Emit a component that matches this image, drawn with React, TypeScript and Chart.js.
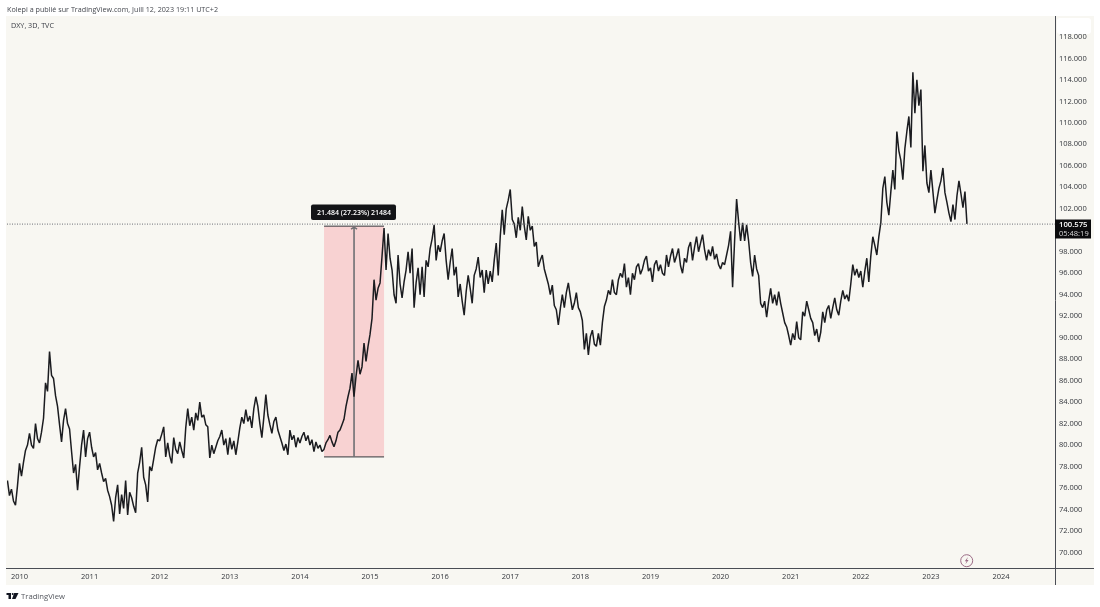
import React, { useEffect, useRef } from "react";
import { Chart, registerables } from "chart.js";

Chart.register(...registerables);

const header = "Kolepi a publié sur TradingView.com, Juill 12, 2023 19:11 UTC+2";
const symbolLine = "DXY, 3D, TVC";
const brand = "TradingView";
const rangeLabel = "21.484 (27.23%) 21484";
const lastPriceLabel = "100.575";
const countdownLabel = "05:48:19";

const lastPrice = 100.575;
const rangeLow = 78.9;
const rangeHigh = 100.384;
const rangeFrom = 2014.344;
const rangeTo = 2015.2;
const axisFirstYear = 2009.822;
const axisLastYear = 2024.77;
const axisLowPrice = 68.557;
const axisHighPrice = 119.95;
const pointsPerYear = 35;

const tail2009 = [76.7, 75.3, 75.9, 74.8, 74.4, 76.2];
const y2010 = [78.3, 77.1, 78.4, 79.5, 80.0, 81.1, 80.0, 79.7, 82.0, 80.6, 80.2, 81.2, 82.5, 85.8, 85.0, 88.7, 86.5, 86.2, 84.6, 83.6, 81.9, 80.3, 82.3, 83.4, 82.0, 81.5, 79.4, 77.4, 78.2, 75.8, 78.0, 80.0, 81.4, 78.9, 80.6];
const y2011 = [81.2, 79.8, 78.9, 79.3, 77.7, 78.3, 77.4, 76.6, 76.9, 75.8, 75.2, 74.4, 72.9, 75.1, 76.3, 73.6, 75.4, 74.1, 76.7, 73.5, 75.6, 75.1, 74.3, 73.7, 77.4, 78.4, 79.8, 77.0, 76.3, 74.7, 78.0, 77.6, 78.7, 79.8, 80.5];
const y2012 = [80.4, 81.0, 81.7, 78.9, 80.2, 79.0, 78.3, 80.7, 79.6, 79.2, 80.3, 79.5, 78.8, 81.6, 83.4, 81.8, 82.6, 81.4, 83.0, 82.3, 84.0, 82.6, 82.8, 81.9, 81.7, 78.8, 80.0, 79.2, 79.8, 80.4, 80.8, 81.4, 80.0, 80.6, 79.1];
const y2013 = [80.7, 79.6, 80.4, 79.1, 80.3, 81.6, 82.6, 82.0, 83.3, 82.2, 82.7, 81.6, 83.4, 84.5, 83.6, 82.0, 80.7, 82.6, 84.7, 82.8, 81.9, 81.1, 82.2, 82.6, 81.4, 80.8, 80.2, 79.5, 80.1, 79.1, 81.4, 80.5, 80.9, 79.8, 80.7];
const y2014 = [80.2, 80.8, 81.2, 80.4, 80.9, 80.0, 80.5, 79.4, 80.3, 79.7, 80.0, 79.4, 79.6, 80.2, 80.5, 80.9, 80.3, 79.85, 80.4, 81.2, 81.4, 81.9, 82.4, 83.6, 84.5, 85.3, 86.7, 84.5, 86.4, 87.9, 86.6, 87.3, 89.5, 87.8, 89.2];
const y2015 = [90.3, 91.8, 95.4, 93.5, 94.6, 95.1, 97.6, 100.2, 96.3, 99.7, 97.4, 96.3, 94.0, 93.2, 97.7, 95.0, 93.7, 95.2, 96.3, 98.0, 96.0, 98.3, 92.8, 95.1, 96.5, 94.0, 96.6, 93.8, 97.2, 96.6, 98.3, 99.2, 100.5, 97.2, 98.6];
const y2016 = [98.0, 99.0, 99.7, 97.2, 95.4, 97.0, 98.3, 95.8, 96.6, 93.8, 95.0, 93.4, 92.1, 94.3, 95.8, 94.6, 93.2, 95.8, 96.4, 97.5, 95.6, 96.3, 94.2, 96.3, 95.0, 96.2, 95.2, 97.2, 98.8, 95.8, 99.4, 101.9, 99.6, 102.0, 102.8];
const y2017 = [103.8, 101.0, 100.6, 99.3, 101.2, 100.0, 102.2, 100.4, 99.1, 101.3, 100.0, 100.4, 98.5, 98.9, 96.6, 97.2, 97.7, 96.4, 95.7, 95.0, 94.0, 94.9, 93.0, 92.6, 91.2, 92.7, 94.0, 92.8, 94.2, 95.1, 93.8, 92.6, 93.2, 94.2, 92.8];
const y2018 = [92.4, 91.6, 88.9, 90.4, 88.4, 90.1, 90.7, 89.4, 89.2, 90.4, 89.3, 91.4, 92.9, 93.5, 94.4, 94.0, 95.4, 94.2, 94.0, 95.4, 96.0, 95.6, 96.9, 94.7, 95.6, 94.0, 96.0, 95.4, 96.6, 96.9, 95.9, 96.4, 97.2, 97.6, 96.2];
const y2019 = [96.5, 95.2, 96.8, 97.2, 96.2, 96.8, 96.0, 95.8, 97.7, 96.6, 97.6, 98.3, 97.0, 97.6, 98.3, 96.7, 96.0, 97.4, 97.0, 98.4, 98.9, 97.2, 98.4, 99.4, 98.0, 98.8, 99.6, 98.2, 97.2, 98.2, 97.6, 98.5, 97.3, 97.8, 96.8];
const y2020 = [96.4, 97.0, 96.8, 97.7, 98.6, 99.9, 94.7, 99.0, 102.9, 100.8, 99.0, 100.7, 99.0, 100.5, 99.0, 97.0, 95.7, 97.7, 96.4, 95.8, 93.2, 92.8, 93.4, 91.9, 93.4, 94.6, 93.2, 94.0, 93.0, 94.3, 93.2, 92.3, 91.4, 91.0, 90.2];
const y2021 = [89.3, 90.4, 89.8, 91.5, 90.0, 89.8, 92.4, 92.0, 93.4, 92.6, 91.8, 91.4, 90.2, 90.8, 89.6, 90.5, 92.4, 91.4, 92.6, 93.0, 91.8, 92.8, 93.7, 92.6, 92.1, 93.4, 94.4, 93.6, 94.0, 93.4, 95.0, 96.8, 95.8, 96.4, 95.6];
const y2022 = [96.2, 94.7, 96.2, 97.4, 95.2, 97.6, 99.4, 98.6, 97.7, 99.4, 100.7, 103.9, 105.0, 102.6, 101.4, 103.6, 105.6, 103.8, 109.2, 107.4, 106.5, 104.7, 107.6, 109.2, 110.6, 107.7, 114.7, 110.9, 114.0, 111.6, 113.1, 105.5, 107.9, 104.4, 103.5];
const y2023 = [105.6, 103.6, 101.6, 102.8, 103.9, 104.6, 105.8, 103.5, 102.6, 101.6, 100.8, 102.4, 101.0, 103.2, 104.6, 103.4, 102.1, 103.6, 100.6];

const years: [number, number[]][] = [
  [2010, y2010], [2011, y2011], [2012, y2012], [2013, y2013], [2014, y2014], [2015, y2015], [2016, y2016],
  [2017, y2017], [2018, y2018], [2019, y2019], [2020, y2020], [2021, y2021], [2022, y2022], [2023, y2023],
];

const pricePoints = [
  ...tail2009.map((y, i) => ({ x: 2010 - (tail2009.length - i) / pointsPerYear, y })),
  ...years.flatMap(([year, vals]) => vals.map((y, i) => ({ x: year + i / pointsPerYear, y }))),
];

const uiFont = '"Open Sans", sans-serif';

const backdrop = {
  id: "backdrop",
  beforeDraw(chart: any) {
    const { ctx } = chart;
    ctx.save();
    ctx.fillStyle = "#ffffff";
    ctx.fillRect(0, 0, chart.width, chart.height);
    ctx.fillStyle = "#f8f7f2";
    ctx.fillRect(6, 16, 1088, 569);
    ctx.fillStyle = "#ffffff";
    ctx.beginPath();
    ctx.roundRect(1057, 18, 34, 16, 3);
    ctx.fill();
    ctx.restore();
  },
};

const measureZone = {
  id: "measureZone",
  beforeDatasetsDraw(chart: any) {
    const { ctx, scales } = chart;
    const x0 = scales.x.getPixelForValue(rangeFrom);
    const x1 = scales.x.getPixelForValue(rangeTo);
    const y0 = scales.y.getPixelForValue(rangeHigh);
    const y1 = scales.y.getPixelForValue(rangeLow);
    const xm = (x0 + x1) / 2;
    ctx.save();
    ctx.fillStyle = "#f8d2d2";
    ctx.fillRect(x0, y0, x1 - x0, y1 - y0);
    ctx.strokeStyle = "#33363c";
    ctx.lineWidth = 1;
    ctx.beginPath();
    ctx.moveTo(x0, y0); ctx.lineTo(x1, y0);
    ctx.moveTo(x0, y1); ctx.lineTo(x1, y1);
    ctx.stroke();
    ctx.strokeStyle = "#6f7074";
    ctx.lineWidth = 1.6;
    ctx.beginPath();
    ctx.moveTo(xm, y1); ctx.lineTo(xm, y0 + 1);
    ctx.moveTo(xm - 3, y0 + 3); ctx.lineTo(xm, y0 + 1); ctx.lineTo(xm + 3, y0 + 3);
    ctx.stroke();
    ctx.restore();
  },
};

const overlay = {
  id: "overlay",
  afterDraw(chart: any) {
    const { ctx, scales } = chart;
    const xm = (scales.x.getPixelForValue(rangeFrom) + scales.x.getPixelForValue(rangeTo)) / 2;
    const yLast = scales.y.getPixelForValue(lastPrice);
    ctx.save();
    // axis extensions
    ctx.strokeStyle = "#4a4d55";
    ctx.lineWidth = 1;
    ctx.beginPath();
    ctx.moveTo(6, 568.5); ctx.lineTo(1094, 568.5);
    ctx.moveTo(1055.5, 16); ctx.lineTo(1055.5, 585);
    ctx.stroke();
    // texts
    ctx.textBaseline = "middle";
    ctx.textAlign = "left";
    ctx.fillStyle = "#45484f";
    ctx.font = `7.2px ${uiFont}`;
    ctx.fillText(header, 7, 9.5);
    ctx.fillStyle = "#3a3d45";
    ctx.fillText(symbolLine, 11, 25.5);
    ctx.fillStyle = "#55585f";
    ctx.font = `7.7px ${uiFont}`;
    ctx.fillText(brand, 21, 596.5);
    // logo
    ctx.fillStyle = "#131722";
    ctx.beginPath();
    ctx.moveTo(6.5, 593); ctx.lineTo(11, 593); ctx.lineTo(11, 599); ctx.lineTo(8.5, 599); ctx.lineTo(8.5, 595); ctx.lineTo(6.5, 595);
    ctx.closePath();
    ctx.fill();
    ctx.beginPath();
    ctx.arc(12.7, 594, 1, 0, Math.PI * 2);
    ctx.fill();
    ctx.beginPath();
    ctx.moveTo(14.2, 593); ctx.lineTo(18.5, 593); ctx.lineTo(15.5, 599); ctx.lineTo(12, 599);
    ctx.closePath();
    ctx.fill();
    // range label
    ctx.fillStyle = "#131417";
    ctx.beginPath();
    ctx.roundRect(311, 204.5, 85, 15.5, 2);
    ctx.fill();
    ctx.fillStyle = "#ffffff";
    ctx.textAlign = "center";
    ctx.font = `600 7px ${uiFont}`;
    ctx.fillText(rangeLabel, xm, 212.5);
    // price tag
    ctx.fillStyle = "#0b0b0d";
    ctx.fillRect(1055, 219.5, 36, 19);
    ctx.textAlign = "left";
    ctx.fillStyle = "#ffffff";
    ctx.font = `600 7.7px ${uiFont}`;
    ctx.fillText(lastPriceLabel, 1059, yLast + 1);
    ctx.fillStyle = "#d8d8d8";
    ctx.font = `7.5px ${uiFont}`;
    ctx.fillText(countdownLabel, 1059, yLast + 9.5);
    // flash icon
    ctx.strokeStyle = "#9c6c86";
    ctx.lineWidth = 1;
    ctx.beginPath();
    ctx.arc(966.7, 560.7, 6, 0, Math.PI * 2);
    ctx.stroke();
    ctx.fillStyle = "#9c6c86";
    ctx.beginPath();
    ctx.moveTo(968, 557); ctx.lineTo(964.8, 561.3); ctx.lineTo(966.6, 561.3);
    ctx.lineTo(965.4, 564.2); ctx.lineTo(968.6, 560); ctx.lineTo(966.8, 560);
    ctx.closePath();
    ctx.fill();
    ctx.restore();
  },
};

export default function App() {
  const ref = useRef<HTMLCanvasElement | null>(null);
  useEffect(() => {
    const chart = new Chart(ref.current as HTMLCanvasElement, {
      type: "line",
      data: {
        datasets: [
          {
            data: [{ x: axisFirstYear, y: lastPrice }, { x: axisLastYear, y: lastPrice }],
            borderColor: "#6a6d74",
            borderWidth: 1,
            borderDash: [1, 1.5],
            pointRadius: 0,
          },
          {
            data: pricePoints,
            borderColor: "#1b1c20",
            borderWidth: 1.5,
            borderJoinStyle: "bevel",
            pointRadius: 0,
            tension: 0,
          },
        ],
      },
      options: {
        responsive: false,
        animation: false,
        devicePixelRatio: 1,
        parsing: false,
        normalized: true,
        layout: { padding: { left: 7, top: 16, right: 6, bottom: 22 } },
        plugins: { legend: { display: false }, tooltip: { enabled: false } },
        scales: {
          x: {
            type: "linear",
            min: axisFirstYear,
            max: axisLastYear,
            afterFit: (s: any) => { s.height = 17; },
            grid: { display: false, drawTicks: false },
            border: { display: false },
            ticks: {
              stepSize: 1,
              includeBounds: false,
              autoSkip: false,
              maxRotation: 0,
              padding: 4,
              color: "#33363c",
              font: { family: uiFont, size: 7.5 },
              callback: (v: any) => String(v),
            },
          },
          y: {
            type: "linear",
            position: "right",
            min: axisLowPrice,
            max: axisHighPrice,
            afterFit: (s: any) => { s.width = 39; },
            grid: { display: false, drawTicks: false },
            border: { display: false },
            ticks: {
              stepSize: 2,
              includeBounds: false,
              autoSkip: false,
              padding: 4,
              color: "#33363c",
              font: { family: uiFont, size: 7.5 },
              callback: (v: any) => Number(v).toFixed(3),
            },
          },
        },
      },
      plugins: [backdrop, measureZone, overlay],
    } as any);
    return () => chart.destroy();
  }, []);
  return (
    <div style={{ position: "fixed", left: 0, top: 0 }}>
      <canvas ref={ref} width={1100} height={607} style={{ display: "block", width: 1100, height: 607 }} />
    </div>
  );
}
